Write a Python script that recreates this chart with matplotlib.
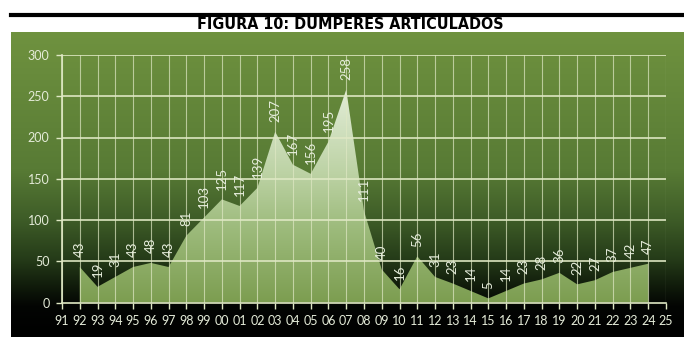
import matplotlib.pyplot as plt
import numpy as np
from matplotlib.colors import LinearSegmentedColormap
from matplotlib.patches import Polygon

years = ["91", "92", "93", "94", "95", "96", "97", "98", "99", "00", "01", "02", "03",
         "04", "05", "06", "07", "08", "09", "10", "11", "12", "13", "14", "15", "16",
         "17", "18", "19", "20", "21", "22", "23", "24", "25"]
units = [43, 19, 31, 43, 48, 43, 81, 103, 125, 117, 139, 207, 167, 156, 195, 258,
         111, 40, 16, 56, 31, 23, 14, 5, 14, 23, 28, 36, 22, 27, 37, 42, 47]
first = 1  # data starts at "92"

W, H = 684, 346
fig = plt.figure(figsize=(W / 100, H / 100), dpi=100)
fig.patch.set_facecolor("white")

# black rule + title
fig.add_artist(plt.Line2D([11 / W, 1], [1 - 14.5 / H] * 2, color="black", lw=3))
fig.text(350 / W, 1 - 24.5 / H, "FIGURA 10: DÚMPERES ARTICULADOS", ha="center", va="center",
         fontsize=11.5, fontweight="bold", fontstretch="condensed", family="DejaVu Sans")

# green panel with vertical gradient
bg = fig.add_axes([11 / W, 1 - 337 / H, 1 - 11 / W, (337 - 32) / H])
bg_cmap = LinearSegmentedColormap.from_list("bg", [
    (0.0, "#6f923f"), (0.45, "#587b35"), (0.62, "#3d5b27"), (0.75, "#243a18"),
    (0.84, "#0f190a"), (0.9, "#030503"), (1.0, "#000000")])
bg.imshow(np.linspace(0, 1, 256).reshape(-1, 1), aspect="auto", cmap=bg_cmap,
          extent=[0, 1, 0, 1])
bg.set_xlim(0, 1)
bg.set_ylim(0, 1)
bg.axis("off")

ax = fig.add_axes([62 / W, 1 - 302.5 / H, (666 - 62) / W, (302.5 - 55) / H])
ax.patch.set_alpha(0)
x = np.arange(first, first + len(units))

# gradient area fill clipped to the polygon
fill_cmap = LinearSegmentedColormap.from_list("fill", [
    (0.0, "#7c9d50"), (0.35, "#9dbb7c"), (0.6, "#bcd2a4"), (1.0, "#e3edd8")])
img = ax.imshow(np.linspace(0, 1, 256).reshape(-1, 1), aspect="auto", cmap=fill_cmap,
                origin="lower", extent=[0, len(years) - 1, 0, 260], zorder=1)
verts = [(x[0], 0)] + list(zip(x, units)) + [(x[-1], 0)]
poly = Polygon(verts, closed=True, facecolor="none", edgecolor="none")
ax.add_patch(poly)
img.set_clip_path(poly)
ax.set_xlim(0, len(years) - 1)
ax.set_ylim(0, 300)

grid_c = "#dfe8c4"
for i in range(len(years)):
    ax.axvline(i, color=grid_c, lw=0.8, alpha=0.7, zorder=2)
for yv in range(50, 301, 50):
    ax.axhline(yv, color=grid_c, lw=1.3, alpha=0.9, zorder=2)

for xi, v in zip(x, units):
    ax.annotate(str(v), (xi, v), xytext=(0, 7), textcoords="offset points",
                rotation=90, ha="center", va="bottom", fontsize=9.5,
                color="#e6eddc", family="Lato", zorder=4)

ax.set_xticks(range(len(years)))
ax.set_xticklabels(years)
ax.set_yticks(range(0, 301, 50))
ax.tick_params(colors=grid_c, labelcolor="#e4ebd8", labelsize=9, length=4, width=1, pad=5)
for lab in ax.get_xticklabels() + ax.get_yticklabels():
    lab.set_family("Lato")
for s in ["top", "right"]:
    ax.spines[s].set_visible(False)
for s in ["left", "bottom"]:
    ax.spines[s].set_color(grid_c)
    ax.spines[s].set_linewidth(1.2)
    ax.spines[s].set_zorder(3)

fig.savefig("out.png", dpi=100)
